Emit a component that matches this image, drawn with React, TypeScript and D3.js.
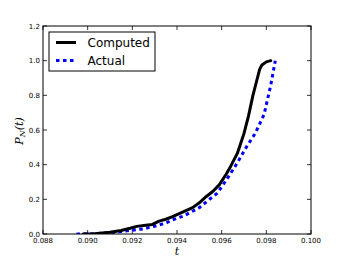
import * as d3 from 'd3'
import { useEffect, useRef } from 'react'

// Computed curve
const computedT = [
  0.0898, 0.0903, 0.091, 0.0915, 0.0919, 0.0922, 0.0926, 0.0929, 0.0932, 0.0935, 0.0938,
  0.0941, 0.0944, 0.0947, 0.095, 0.0953, 0.0956, 0.0959, 0.0962, 0.0964, 0.0967, 0.097,
  0.0972, 0.0974, 0.0976, 0.0977, 0.0978, 0.098, 0.0982
]
const computedP = [
  0, 0.002, 0.01, 0.02, 0.033, 0.044, 0.05, 0.055, 0.074, 0.085, 0.1, 0.118, 0.135, 0.152,
  0.18, 0.215, 0.245, 0.285, 0.345, 0.39, 0.465, 0.58, 0.68, 0.8, 0.9, 0.95, 0.975, 0.993, 1.0
]

// Actual curve
const actualT = [
  0.0895, 0.09, 0.0905, 0.091, 0.0915, 0.092, 0.0925, 0.093, 0.0935, 0.0938, 0.0943, 0.095,
  0.0955, 0.0958, 0.0962, 0.0967, 0.0971, 0.0975, 0.0979, 0.0982, 0.0984
]
const actualP = [
  0, 0.001, 0.003, 0.008, 0.014, 0.022, 0.03, 0.045, 0.063, 0.082, 0.104, 0.152, 0.205,
  0.235, 0.31, 0.41, 0.5, 0.58, 0.69, 0.86, 1.0
]

const xTicks = [0.088, 0.09, 0.092, 0.094, 0.096, 0.098, 0.1]
const yTicks = [0, 0.2, 0.4, 0.6, 0.8, 1.0, 1.2]

export default function App() {
  const ref = useRef<SVGSVGElement>(null)

  useEffect(() => {
    const W = 346
    const H = 260
    const margin = { top: 26, right: 35, bottom: 26, left: 43 }
    const width = W - margin.left - margin.right
    const height = H - margin.top - margin.bottom

    const root = d3.select(ref.current)
    root.selectAll('*').remove()
    root.attr('width', W).attr('height', H)

    const g = root.append('g').attr('transform', `translate(${margin.left},${margin.top})`)

    const x = d3.scaleLinear().domain([0.088, 0.1]).range([0, width])
    const y = d3.scaleLinear().domain([0, 1.2]).range([height, 0])

    const font = 'DejaVu Sans, sans-serif'

    // ticks, inward on all four sides
    const tl = 4
    xTicks.forEach((t) => {
      g.append('line').attr('x1', x(t)).attr('x2', x(t)).attr('y1', height).attr('y2', height - tl).attr('stroke', '#000').attr('stroke-width', 0.8)
      g.append('line').attr('x1', x(t)).attr('x2', x(t)).attr('y1', 0).attr('y2', tl).attr('stroke', '#000').attr('stroke-width', 0.8)
      g.append('text')
        .attr('x', x(t))
        .attr('y', height + 9)
        .attr('text-anchor', 'middle')
        .attr('font-family', font)
        .attr('font-size', 7)
        .attr('fill', '#000')
        .text(d3.format('.3f')(t))
    })
    yTicks.forEach((t) => {
      g.append('line').attr('x1', 0).attr('x2', tl).attr('y1', y(t)).attr('y2', y(t)).attr('stroke', '#000').attr('stroke-width', 0.8)
      g.append('line').attr('x1', width).attr('x2', width - tl).attr('y1', y(t)).attr('y2', y(t)).attr('stroke', '#000').attr('stroke-width', 0.8)
      g.append('text')
        .attr('x', -3)
        .attr('y', y(t) + 2.5)
        .attr('text-anchor', 'end')
        .attr('font-family', font)
        .attr('font-size', 7)
        .attr('fill', '#000')
        .text(d3.format('.1f')(t))
    })

    const line = d3
      .line<[number, number]>()
      .x((d) => x(d[0]))
      .y((d) => y(d[1]))

    const clip = g.append('defs').append('clipPath').attr('id', 'plot-clip')
    clip.append('rect').attr('x', 0).attr('y', 0).attr('width', width).attr('height', height)
    const area = g.append('g').attr('clip-path', 'url(#plot-clip)')

    area
      .append('path')
      .datum(actualT.map((t, i) => [t, actualP[i]] as [number, number]))
      .attr('fill', 'none')
      .attr('stroke', '#0000ff')
      .attr('stroke-width', 3)
      .attr('stroke-dasharray', '3.5,3.5')
      .attr('d', line)

    area
      .append('path')
      .datum(computedT.map((t, i) => [t, computedP[i]] as [number, number]))
      .attr('fill', 'none')
      .attr('stroke', '#000')
      .attr('stroke-width', 3)
      .attr('stroke-linejoin', 'round')
      .attr('stroke-linecap', 'round')
      .attr('d', line)

    // frame
    g.append('rect')
      .attr('width', width)
      .attr('height', height)
      .attr('fill', 'none')
      .attr('stroke', '#000')
      .attr('stroke-width', 1)

    // legend
    const leg = root.append('g').attr('transform', 'translate(49,32)')
    leg.append('rect').attr('x', 0).attr('y', 0).attr('width', 106).attr('height', 39).attr('fill', '#fff').attr('stroke', '#000').attr('stroke-width', 1)
    const items = [
      { label: 'Computed', color: '#000', dash: null },
      { label: 'Actual', color: '#0000ff', dash: '3.5,3.5' }
    ]
    items.forEach((it, i) => {
      const cy = 10.5 + i * 18
      const l = leg.append('line').attr('x1', 7).attr('x2', 27).attr('y1', cy).attr('y2', cy).attr('stroke', it.color).attr('stroke-width', 3)
      if (it.dash) l.attr('stroke-dasharray', it.dash)
      leg.append('text')
        .attr('x', 38.5)
        .attr('y', cy + 4.3)
        .attr('font-family', font)
        .attr('font-size', 12)
        .attr('fill', '#000')
        .text(it.label)
    })

    // axis labels
    root
      .append('text')
      .attr('x', margin.left + x(0.094))
      .attr('y', 255)
      .attr('text-anchor', 'middle')
      .attr('font-family', 'DejaVu Serif, serif')
      .attr('font-style', 'italic')
      .attr('font-size', 11)
      .text('t')

    const yl = root
      .append('text')
      .attr('transform', 'translate(23,131) rotate(-90)')
      .attr('text-anchor', 'middle')
      .attr('font-family', 'DejaVu Serif, serif')
      .attr('font-style', 'italic')
      .attr('font-size', 11)
    yl.append('tspan').text('P')
    yl.append('tspan').attr('font-size', 8).attr('dy', 2).text('N')
    yl.append('tspan').attr('dy', -2).text('(t)')
  }, [])

  return <svg ref={ref} style={{ position: 'absolute', left: 0, top: 0 }} />
}
